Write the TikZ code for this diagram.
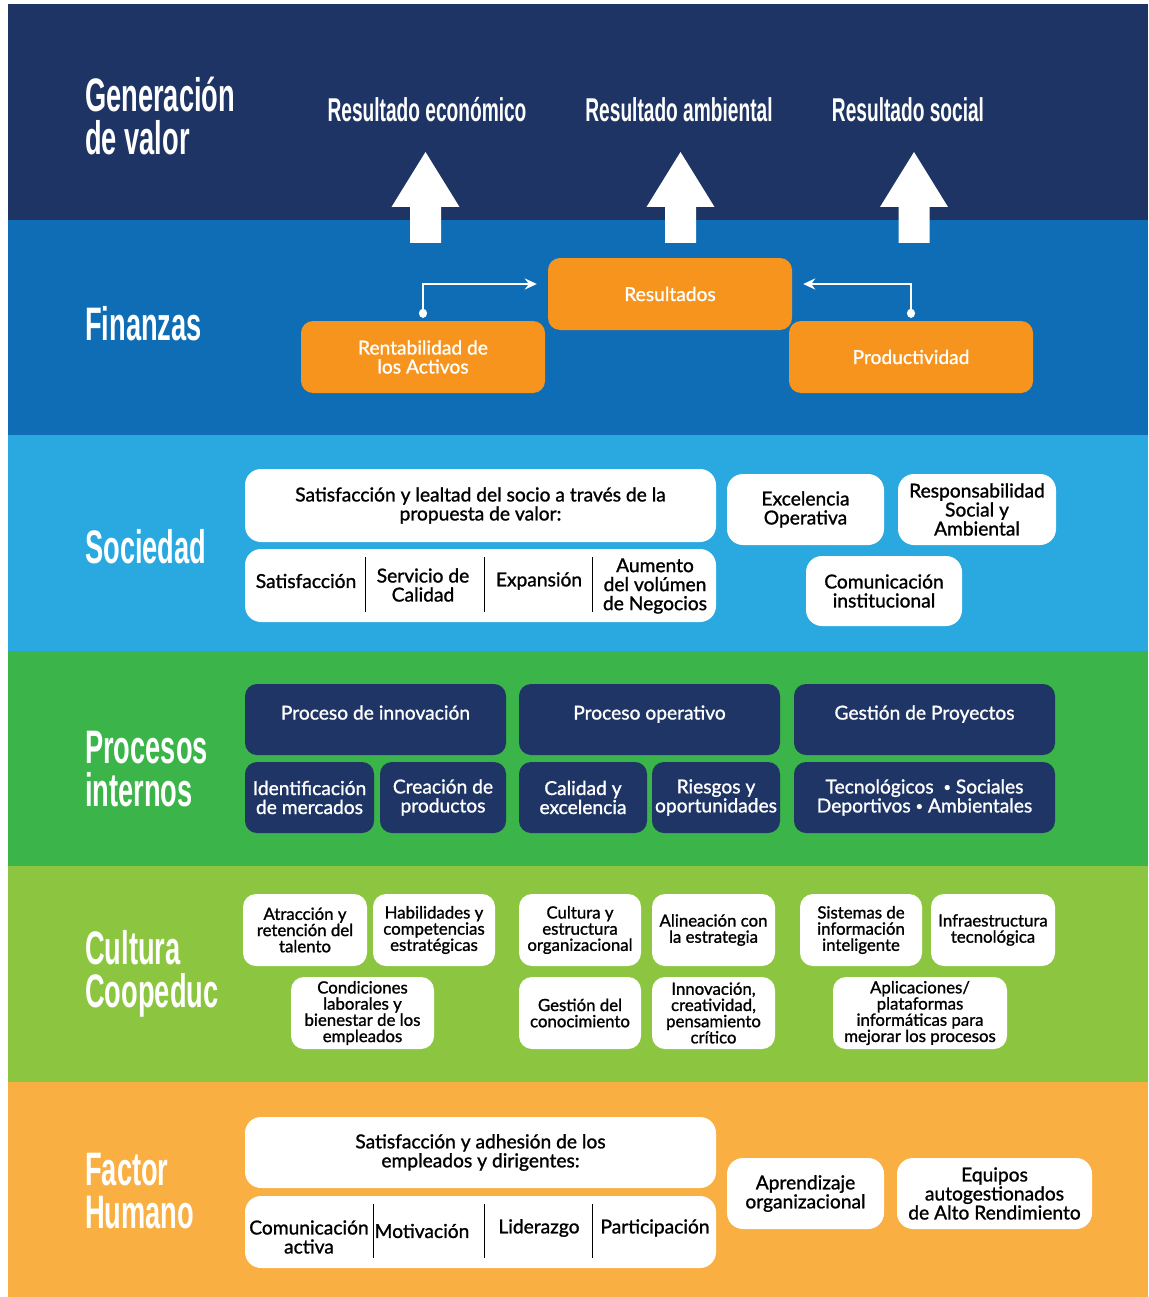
\documentclass[tikz,border=0pt]{standalone}
\usepackage{fontspec}
\setmainfont{Lato}
\newfontfamily\titlefont[FakeStretch=0.58]{Liberation Sans Bold}
\newfontfamily\boxfont[FakeBold=1.2]{Lato}
\usetikzlibrary{arrows.meta}
\definecolor{valc}{HTML}{1E3464}
\definecolor{finc}{HTML}{0F6DB5}
\definecolor{socc}{HTML}{29A9E0}
\definecolor{proc}{HTML}{3BB44A}
\definecolor{culc}{HTML}{8CC640}
\definecolor{humc}{HTML}{F9AF41}
\definecolor{orbox}{HTML}{F7941D}
\definecolor{nvbox}{HTML}{1E3566}
\newcommand{\fA}{\fontsize{19.2}{19}\selectfont}
\newcommand{\fC}{\fontsize{16.8}{16.2}\selectfont}
\newcommand{\sepdot}{\raisebox{2pt}{\fontsize{13}{13}\selectfont•}}

\begin{document}
\begin{tikzpicture}[x=1pt, y=-1pt,
  secttl/.style={anchor=west, inner sep=0pt, text=white, align=left,
    font=\titlefont\fontsize{47}{43.5}\selectfont},
  outc/.style={text=white, inner sep=0pt, font=\titlefont\fontsize{33}{33}\selectfont},
  obox/.style={fill=orbox, rounded corners=12pt, text=white, align=center,
    inner sep=0pt, font=\boxfont\fA},
  wbox/.style={fill=white, rounded corners=16pt, text=black, align=center,
    inner sep=0pt, font=\boxfont\fA},
  cbox/.style={wbox, rounded corners=13pt, font=\boxfont\fC},
  nbox/.style={fill=nvbox, rounded corners=12pt, text=white, align=center,
    inner sep=0pt, font=\boxfont\fA},
  item/.style={align=center, inner sep=0pt, font=\boxfont\fA},
  divline/.style={black, line width=1pt},
  link/.style={white, line width=2pt, {Circle[length=9pt,width=8pt]}-{Stealth[length=12pt,width=11pt,inset=4pt]}}]
  \useasboundingbox (0,0) rectangle (1148,1297);

  % bands
  \fill[valc] (8,4) rectangle (1148,220);
  \fill[finc] (8,220) rectangle (1148,435);
  \fill[socc] (8,435) rectangle (1148,651);
  \fill[proc] (8,651) rectangle (1148,866);
  \fill[culc] (8,866) rectangle (1148,1082);
  \fill[humc] (8,1082) rectangle (1148,1297);

  % titles
  \node[secttl] (tval) at (85,116) {Generación\\de valor};
  \node[secttl] (tfin) at (85,324) {Finanzas};
  \node[secttl] (tsoc) at (85,547) {Sociedad};
  \node[secttl] (tpro) at (85,769) {Procesos\\internos};
  \node[secttl] (tcul) at (85,974) {Cultura\\Coopeduc};
  \node[secttl] (thum) at (85,1191) {Factor\\Humano};

  % generacion de valor
  \node[outc] (reco) at (427,110) {Resultado económico};
  \node[outc] (ramb) at (679,110) {Resultado ambiental};
  \node[outc] (rsoc) at (908,110) {Resultado social};
  \foreach \cx in {425.5,680.5,914}
    \fill[white] (\cx-15.5,243) -- (\cx-15.5,207) -- (\cx-34,207) -- (\cx,152)
      -- (\cx+34,207) -- (\cx+15.5,207) -- (\cx+15.5,243) -- cycle;

  % finanzas
  \node[obox, minimum width=244, minimum height=72] (resu) at (670,294) {Resultados};
  \node[obox, minimum width=244, minimum height=72] (rent) at (423,357) {Rentabilidad de\\los Activos};
  \node[obox, minimum width=244, minimum height=72] (prod) at (911,357) {Productividad};
  \draw[link] ([yshift=3pt]rent.north) |- ([xshift=-11pt,yshift=10pt]resu.west);
  \draw[link] ([yshift=3pt]prod.north) |- ([xshift=11pt,yshift=10pt]resu.east);

  % sociedad
  \node[wbox, minimum width=471, minimum height=73] (slea) at (480.5,505.5)
    {Satisfacción y lealtad del socio a través de la\\propuesta de valor:};
  \node[wbox, minimum width=471, minimum height=73] (sdiv) at (480.5,585.5) {};
  \node[item] (ssat) at (306,581) {Satisfacción};
  \node[item] (sser) at (423,585) {Servicio de\\Calidad};
  \node[item] (sexp) at (539,581) {Expansión};
  \node[item] (saum) at (655,586) {Aumento\\del volúmen\\de Negocios};
  \foreach \dx in {365,484,592}
    \draw[divline] (\dx,557) -- (\dx,612);
  \node[wbox, minimum width=157, minimum height=71] (sexc) at (805.5,509.5) {Excelencia\\Operativa};
  \node[wbox, minimum width=158, minimum height=71] (sres) at (977,509.5) {Responsabilidad\\Social y\\Ambiental};
  \node[wbox, minimum width=156, minimum height=70] (scom) at (884,591) {Comunicación\\institucional};

  % procesos internos
  \node[nbox, text depth=14pt, minimum width=261, minimum height=71] (pinn) at (375.5,719.5) {Proceso de innovación};
  \node[nbox, text depth=14pt, minimum width=261, minimum height=71] (pope) at (649.5,719.5) {Proceso operativo};
  \node[nbox, text depth=14pt, minimum width=261, minimum height=71] (pges) at (924.5,719.5) {Gestión de Proyectos};
  \node[nbox, minimum width=129, minimum height=71] (pide) at (309.5,797.5) {Identificación\\de mercados};
  \node[nbox, minimum width=126, minimum height=71] (pcre) at (443,797.5) {Creación de\\productos};
  \node[nbox, minimum width=128, minimum height=71] (pcal) at (583,797.5) {Calidad y\\excelencia};
  \node[nbox, minimum width=128, minimum height=71] (prie) at (716,797.5) {Riesgos y\\oportunidades};
  \node[nbox, minimum width=261, minimum height=71] (ptec) at (924.5,797.5)
    {Tecnológicos\ \ \sepdot\ Sociales\\Deportivos \sepdot\ Ambientales};

  % cultura coopeduc
  \node[cbox, minimum width=124, minimum height=72] (catr) at (305,930) {Atracción y\\retención del\\talento};
  \node[cbox, minimum width=122, minimum height=72] (chab) at (434,930) {Habilidades y\\competencias\\estratégicas};
  \node[cbox, minimum width=122, minimum height=72] (ccul) at (580,930) {Cultura y\\estructura\\organizacional};
  \node[cbox, minimum width=123, minimum height=72] (cali) at (713.5,930) {Alineación con\\la estrategia};
  \node[cbox, minimum width=122, minimum height=72] (csis) at (861,930) {Sistemas de\\información\\inteligente};
  \node[cbox, minimum width=124, minimum height=72] (cinf) at (993,930) {Infraestructura\\tecnológica};
  \node[cbox, minimum width=143, minimum height=72] (ccon) at (362.5,1013) {Condiciones\\laborales y\\bienestar de los\\empleados};
  \node[cbox, minimum width=122, minimum height=72] (cges) at (580,1013) {Gestión del\\conocimiento};
  \node[cbox, minimum width=123, minimum height=72] (cinn) at (713.5,1013) {Innovación,\\creatividad,\\pensamiento\\crítico};
  \node[cbox, minimum width=174, minimum height=72] (capl) at (920,1013) {Aplicaciones/\\plataformas\\informáticas para\\mejorar los procesos};

  % factor humano
  \node[wbox, minimum width=471, minimum height=71] (hsat) at (480.5,1152.5)
    {Satisfacción y adhesión de los\\empleados y dirigentes:};
  \node[wbox, minimum width=471, minimum height=72] (hdiv) at (480.5,1232) {};
  \node[item] (hcom) at (309,1237) {Comunicación\\activa};
  \node[item] (hmot) at (422,1231) {Motivación};
  \node[item] (hlid) at (539,1228) {Liderazgo};
  \node[item] (hpar) at (655,1228) {Participación};
  \foreach \dx in {373,484,592}
    \draw[divline] (\dx,1204) -- (\dx,1258);
  \node[wbox, minimum width=157, minimum height=71] (hapr) at (805.5,1193.5) {Aprendizaje\\organizacional};
  \node[wbox, minimum width=195, minimum height=71] (hequ) at (994.5,1193.5) {Equipos\\autogestionados\\de Alto Rendimiento};
\end{tikzpicture}
\end{document}
